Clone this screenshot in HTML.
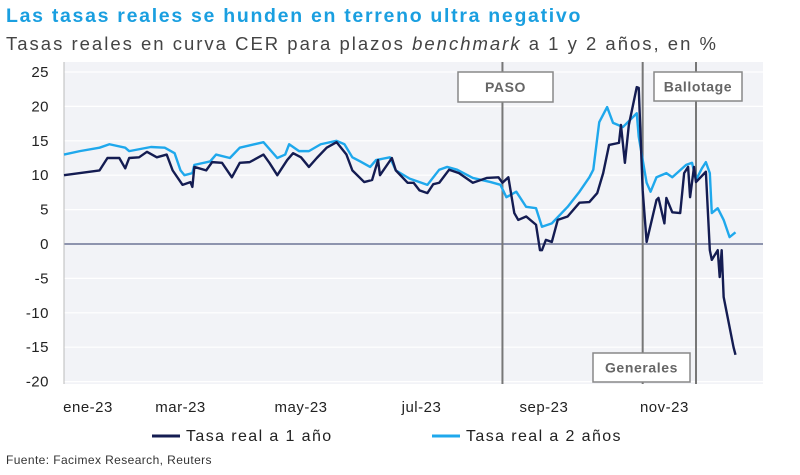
<!DOCTYPE html>
<html><head><meta charset="utf-8">
<style>
body{margin:0;width:800px;height:475px;background:#fff;font-family:"Liberation Sans",sans-serif;overflow:hidden}
.t{position:absolute;left:6px;top:5px;font-size:19.5px;font-weight:bold;color:#1a9fe0;letter-spacing:1.7px}
.s{position:absolute;left:6px;top:33px;font-size:18.5px;color:#444;letter-spacing:2px}
.f{position:absolute;left:6px;top:453px;font-size:12px;color:#333;letter-spacing:0.4px}
</style></head><body>
<div class="t">Las tasas reales se hunden en terreno ultra negativo</div>
<div class="s">Tasas reales en curva CER para plazos <i>benchmark</i> a 1 y 2 años, en %</div>
<svg id="c" width="800" height="475" style="position:absolute;left:0;top:0"></svg>
<div class="f">Fuente: Facimex Research, Reuters</div>
<script>
const yTicks=[25,20,15,10,5,0,-5,-10,-15,-20];
const monthLabels=["ene-23","mar-23","may-23","jul-23","sep-23","nov-23"];
const monthDays=[0,59,120,181,243,304];
const events=["PASO","Generales","Ballotage"];
const eventDays=[222,293,320];
const days2=[0,8,18,23,31,33,44,51,56,59,61,65,66,74,77,84,89,101,108,112,114,119,124,130,138,142,146,150,155,158,165,168,175,184,190,194,199,207,216,221,224,229,234,239,242,247,255,261,266,268,271,275,278,283,290,291,295,297,300,305,308,315,318,320,323,325,327,328,331,334,337,340];
const vals2=[13,13.5,14,14.5,14,13.5,14.1,14,13.2,10.7,10,10.3,11.5,12,13,12.5,14,14.8,12.5,13,14.5,13.5,13.5,14.5,15,14.5,12.6,12,11.2,12.2,12.6,10.7,9.5,8.6,10.8,11.2,10.8,9.6,9,8.6,6.8,7.6,5.4,5.2,2.5,3,5.4,7.6,9.7,10.8,17.7,19.9,17.6,17,19,15.6,8.9,7.6,9.7,10.3,9.7,11.5,11.8,9.3,11,11.9,10.3,4.5,5.2,3.5,1,1.7];
const days1=[0,18,22,28,31,33,38,42,47,52,55,60,64,65,66,72,75,80,85,89,94,101,104,108,113,116,120,124,128,133,138,143,146,152,156,159,160,166,168,174,177,180,184,187,190,195,200,207,214,220,222,225,228,230,234,239,241,242,244,247,250,255,261,266,270,273,276,281,282,284,286,290,291,293,295,300,301,304,305,308,312,314,316,317,319,320,325,327,328,331,332,333,334,339,340];
const vals1=[10,10.7,12.5,12.5,11,12.5,12.6,13.4,12.6,13,10.7,8.6,9,8.3,11.2,10.7,11.9,11.8,9.7,11.8,11.9,13,11.8,10,12.2,13.2,12.6,11.2,12.5,14,14.8,13,10.7,9,9.3,12.2,10,12.5,10.7,8.9,8.9,7.8,7.4,8.7,8.9,10.8,10.3,8.9,9.6,9.7,8.9,9.7,4.5,3.5,4,2.8,-0.9,-0.9,0.6,0.3,3.5,4,6,6.1,7.4,10.3,14.4,14.7,17.3,11.8,17.3,22.8,22.7,7.8,0.3,6.4,6.7,3,6.7,4.6,4.5,10.3,11.2,6.8,11.2,9,10.5,-0.9,-2.3,-0.9,-4.8,-0.9,-7.7,-15,-16.1];

const NS="http://www.w3.org/2000/svg",svg=document.getElementById('c');
const L=64,R=763,T=62,B=384;
const x=d=>L+d*1.975, y=v=>244-v*6.88;
function mk(t,a,p){const e=document.createElementNS(NS,t);for(const k in a)e.setAttribute(k,a[k]);(p||svg).appendChild(e);return e;}
const bg=mk('rect',{x:L,y:T,width:R-L,height:B-T,fill:'#f2f3f7'});


yTicks.forEach(v=>{
  const g=mk('line',{x1:L,x2:R,y1:y(v),y2:y(v),stroke:v===0?'#2a3566':'#fff','stroke-width':v===0?1:1.2});
  
  
  const t=mk('text',{x:49,y:y(v)+5,'text-anchor':'end','font-size':15,fill:'#222','letter-spacing':0.5});t.textContent=v;
  
  
});
const ax=mk('line',{x1:L,x2:L,y1:T,y2:B,stroke:'#bbb'});


monthLabels.forEach((m,i)=>{
  const t=mk('text',{x:Math.max(x(monthDays[i]),88),y:412,'text-anchor':'middle','font-size':15,fill:'#222','letter-spacing':0.5});t.textContent=m;
  
  
});
function line(ds,vs,col,name){
  const p=mk('polyline',{points:ds.map((d,i)=>x(d)+','+y(vs[i])).join(' '),fill:'none',stroke:col,'stroke-width':2.4,'stroke-linejoin':'round'});
  
  
}
eventDays.forEach((d,i)=>{
  const l=mk('line',{x1:x(d),x2:x(d),y1:T,y2:B,stroke:'#777','stroke-width':2});
  
  
});
line(days2,vals2,'#1fa8ec','series-2y');
line(days1,vals1,'#141c52','series-1y');
const boxes=[[458,72,95,30],[593,353,97,29],[654,72,88,29]];
events.forEach((e,i)=>{
  const b=boxes[i];
  const r=mk('rect',{x:b[0],y:b[1],width:b[2],height:b[3],fill:'#fff',stroke:'#888','stroke-width':1.5});
  
  
  const t=mk('text',{x:b[0]+b[2]/2,y:b[1]+b[3]/2+5,'text-anchor':'middle','font-size':14,'font-weight':'bold',fill:'#666','letter-spacing':0.6});t.textContent=e;
  
  
});
[[152,'#141c52','Tasa real a 1 año'],[432,'#1fa8ec','Tasa real a 2 años']].forEach(l=>{
  const s=mk('line',{x1:l[0],x2:l[0]+28,y1:436,y2:436,stroke:l[1],'stroke-width':3});
  
  
  const t=mk('text',{x:l[0]+34,y:441,'font-size':16,fill:'#222','letter-spacing':1.4});t.textContent=l[2];
  
  
});
</script>
</body></html>
